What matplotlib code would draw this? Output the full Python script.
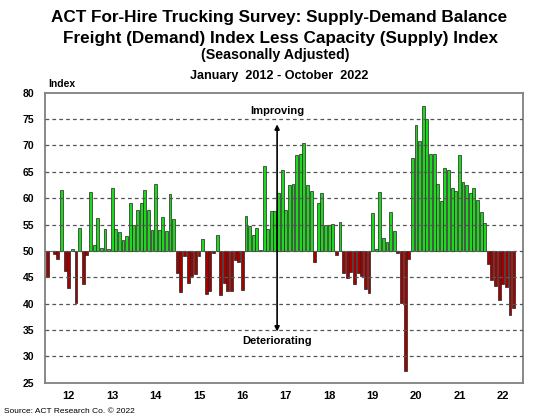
"""
ACT For-Hire Trucking Survey: supply-demand balance index, Jan 2012 - Oct 2022.
Monthly bars drawn relative to the neutral 50 line (green above, red below).
"""

import numpy as np

import matplotlib

matplotlib.use("Agg")
import matplotlib.pyplot as plt

plt.rcParams["font.family"] = ["Liberation Sans", "DejaVu Sans"]

OUT_PNG = "out.png"

# Monthly index values, one list per year.
Y2012 = [45.1, 49.9, 49.5, 48.5, 61.5, 46.1, 43.0, 50.3, 40.2, 54.4, 43.7, 49.2]
Y2013 = [61.1, 51.1, 56.2, 50.5, 54.2, 50.4, 62.0, 54.2, 53.5, 52.0, 52.8, 59.0]
Y2014 = [54.9, 57.8, 59.0, 61.5, 57.8, 54.0, 62.6, 53.9, 56.5, 53.7, 60.8, 56.1]
Y2015 = [45.8, 42.2, 49.0, 43.9, 45.2, 45.7, 49.0, 52.3, 41.9, 42.4, 49.6, 53.0]
Y2016 = [41.6, 43.9, 42.3, 42.3, 48.2, 47.9, 42.5, 56.7, 54.8, 53.1, 54.4, 50.1]
Y2017 = [66.1, 54.1, 57.5, 57.5, 60.9, 65.3, 57.7, 62.4, 62.6, 68.2, 68.4, 70.4]
Y2018 = [62.5, 61.4, 47.9, 59.1, 61.0, 55.0, 55.0, 55.1, 49.2, 55.4, 45.8, 44.8]
Y2019 = [46.0, 43.7, 45.8, 45.2, 42.8, 42.1, 57.1, 50.3, 61.1, 52.5, 51.7, 57.3]
Y2020 = [53.7, 49.6, 40.1, 27.2, 48.5, 67.7, 73.9, 70.9, 77.5, 75.0, 68.4, 68.4]
Y2021 = [62.6, 59.4, 65.8, 65.3, 62.0, 61.4, 68.1, 63.1, 62.4, 60.9, 62.0, 59.6]
Y2022 = [57.3, 55.2, 47.6, 44.4, 43.3, 40.6, 43.8, 43.2, 37.8, 39.2]

YEAR_LABELS = ["12", "13", "14", "15", "16", "17", "18", "19", "20", "21", "22"]
Y_TICKS = [25, 30, 35, 40, 45, 50, 55, 60, 65, 70, 75, 80]
NEUTRAL = 50

GREEN = "#1ED81E"
RED = "#A30000"


def main():
    values = np.array(Y2012 + Y2013 + Y2014 + Y2015 + Y2016 + Y2017
                      + Y2018 + Y2019 + Y2020 + Y2021 + Y2022)
    n_slots = 12 * len(YEAR_LABELS)
    x = np.arange(len(values)) + 0.5
    colors = [GREEN if v >= NEUTRAL else RED for v in values]

    fig = plt.figure(figsize=(5.59, 4.19), dpi=100)
    ax = fig.add_axes([0.081, 0.0866, 0.854, 0.6922])

    ax.bar(x, values - NEUTRAL, bottom=NEUTRAL, width=0.8, color=colors,
           edgecolor="#222222", linewidth=0.5, zorder=2)

    for yv in Y_TICKS[1:-1]:
        ax.axhline(yv, color="#555555", linestyle=(0, (3, 2.5)), linewidth=0.9, zorder=3)

    ax.set_xlim(0, n_slots)
    ax.set_ylim(Y_TICKS[0], Y_TICKS[-1])
    ax.set_yticks(Y_TICKS)
    ax.set_yticklabels([str(t) for t in Y_TICKS], fontsize=7.5, fontweight="bold")
    ax.set_xticks(np.arange(len(YEAR_LABELS)) * 12 + 6.5)
    ax.set_xticklabels(YEAR_LABELS, fontsize=8, fontweight="bold")
    ax.tick_params(length=0, pad=6)
    ax.tick_params(axis="y", pad=8)
    for sp in ax.spines.values():
        sp.set_color("#808080")
        sp.set_linewidth(1.3)

    # Improving / deteriorating arrow
    ax.annotate("", xy=(64.1, 74.0), xytext=(64.1, 34.7),
                arrowprops=dict(arrowstyle="<|-|>", color="black", lw=1.2,
                                mutation_scale=7, shrinkA=0, shrinkB=0), zorder=5)
    ax.text(64.1, 76.5, "Improving", ha="center", va="center", fontsize=8, fontweight="bold")
    ax.text(64.1, 33.0, "Deteriorating", ha="center", va="center", fontsize=8, fontweight="bold")

    fig.text(0.499, 0.9475, "ACT For-Hire Trucking Survey: Supply-Demand Balance",
             ha="center", va="baseline", fontsize=12.3, fontweight="bold")
    fig.text(0.502, 0.898, "Freight (Demand) Index Less Capacity (Supply) Index",
             ha="center", va="baseline", fontsize=12.3, fontweight="bold")
    fig.text(0.493, 0.859, "(Seasonally Adjusted)",
             ha="center", va="baseline", fontsize=10.3, fontweight="bold")
    fig.text(0.499, 0.811, "January  2012 - October  2022",
             ha="center", va="baseline", fontsize=9.1, fontweight="bold")
    fig.text(0.087, 0.792, "Index", ha="left", va="baseline", fontsize=7.5, fontweight="bold")
    fig.text(0.008, 0.018, "Source: ACT Research Co. \u00a9 2022",
             ha="left", va="center", fontsize=6)

    fig.savefig(OUT_PNG, dpi=100)


if __name__ == "__main__":
    main()
